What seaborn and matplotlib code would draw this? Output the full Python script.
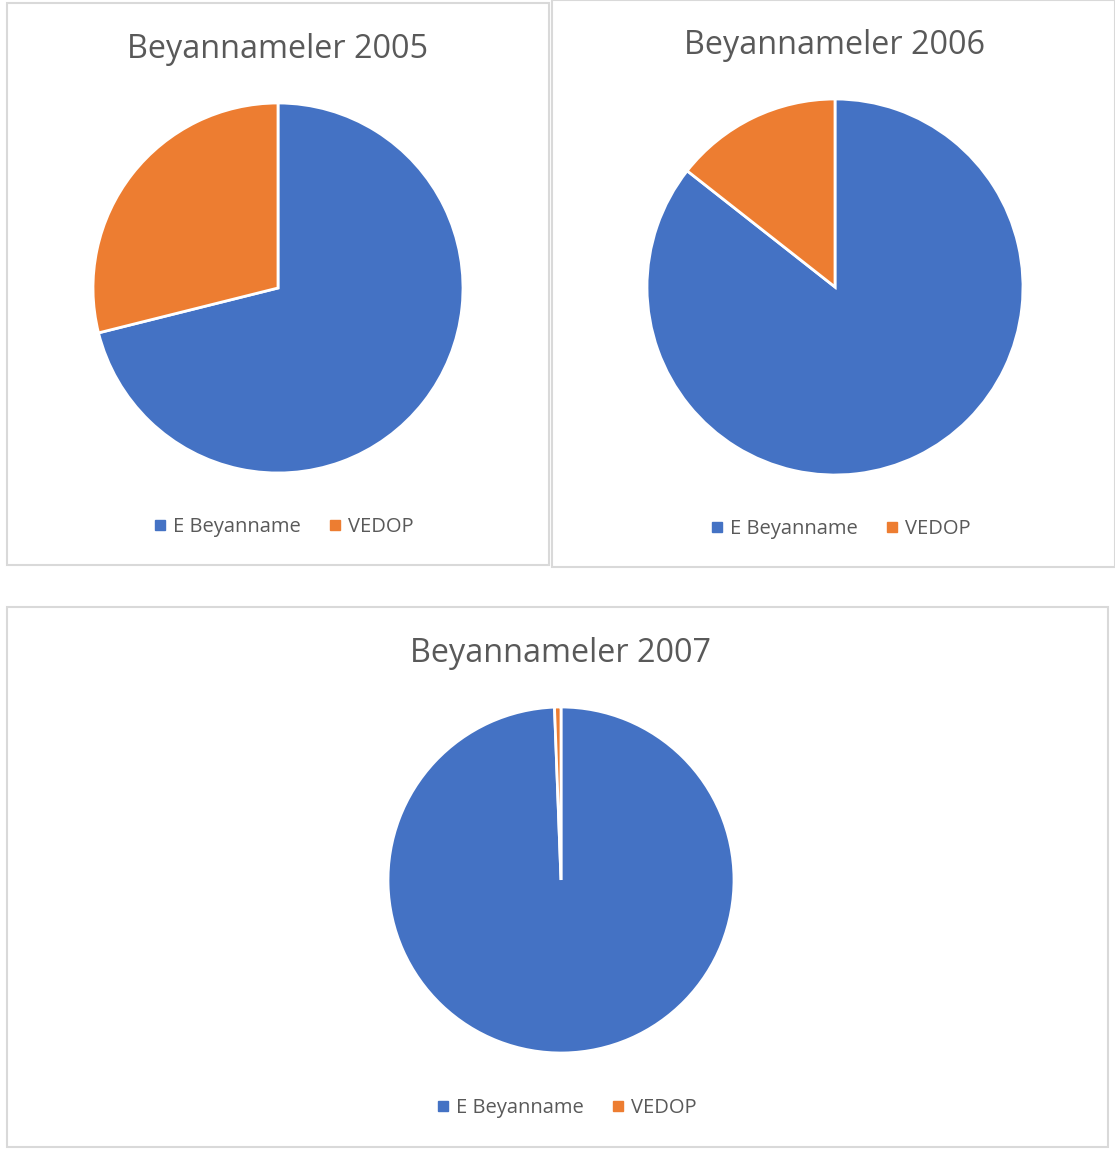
import matplotlib
matplotlib.use('Agg')
import matplotlib.pyplot as plt
from matplotlib.patches import Rectangle
from matplotlib.lines import Line2D
import seaborn as sns

# data
labels = ['E Beyanname', 'VEDOP']
years = ['2005', '2006', '2007']
share_2005 = [71.1, 28.9]
share_2006 = [85.6, 14.4]
share_2007 = [99.4, 0.6]
colors = ['#4472C4', '#ED7D31']

sns.set_theme(style='white')
plt.rcParams['font.family'] = ['Open Sans', 'DejaVu Sans']

W, H = 1115, 1149
fig = plt.figure(figsize=(W / 100, H / 100), dpi=100)


def px_rect(x0, y0, w, h):
    # pixel box (top-left origin) -> figure fraction
    return [x0 / W, 1 - (y0 + h) / H, w / W, h / H]


def panel(box, center, radius, values, year, title_y, legend_y, legend_x):
    x0, y0, x1, y1 = box
    fig.patches.append(Rectangle((x0 / W, 1 - y1 / H), (x1 - x0) / W, (y1 - y0) / H,
                                 transform=fig.transFigure, fill=False,
                                 edgecolor='#d9d9d9', linewidth=1.5))
    cx, cy = center
    ax = fig.add_axes(px_rect(cx - radius, cy - radius, 2 * radius, 2 * radius))
    ax.pie(values, colors=colors, startangle=90, counterclock=False, radius=1,
           wedgeprops={'edgecolor': 'white', 'linewidth': 2})
    ax.set_xlim(-1, 1)
    ax.set_ylim(-1, 1)
    ax.set_aspect('equal')
    ax.axis('off')
    fig.text(cx / W, 1 - title_y / H, f'Beyannameler {year}', ha='center', va='center',
             fontsize=23.3, color='#595959')
    handles = [Line2D([], [], marker='s', linestyle='', markersize=6.5, color=c) for c in colors]
    fig.legend(handles, labels, loc='center', bbox_to_anchor=(legend_x / W, 1 - legend_y / H),
               ncol=2, frameon=False, fontsize=14.5, labelcolor='#595959',
               handletextpad=0.25, columnspacing=1.3, handlelength=0.8)


panel((7, 3, 549, 565), (278, 288), 185, share_2005, years[0], 49, 527, 283)
panel((552, 0, 1115, 567), (835, 287), 188, share_2006, years[1], 45, 529, 840)
panel((7, 607, 1108, 1147), (561, 880), 173, share_2007, years[2], 653, 1108, 566)

fig.savefig('out.png', dpi=100)
